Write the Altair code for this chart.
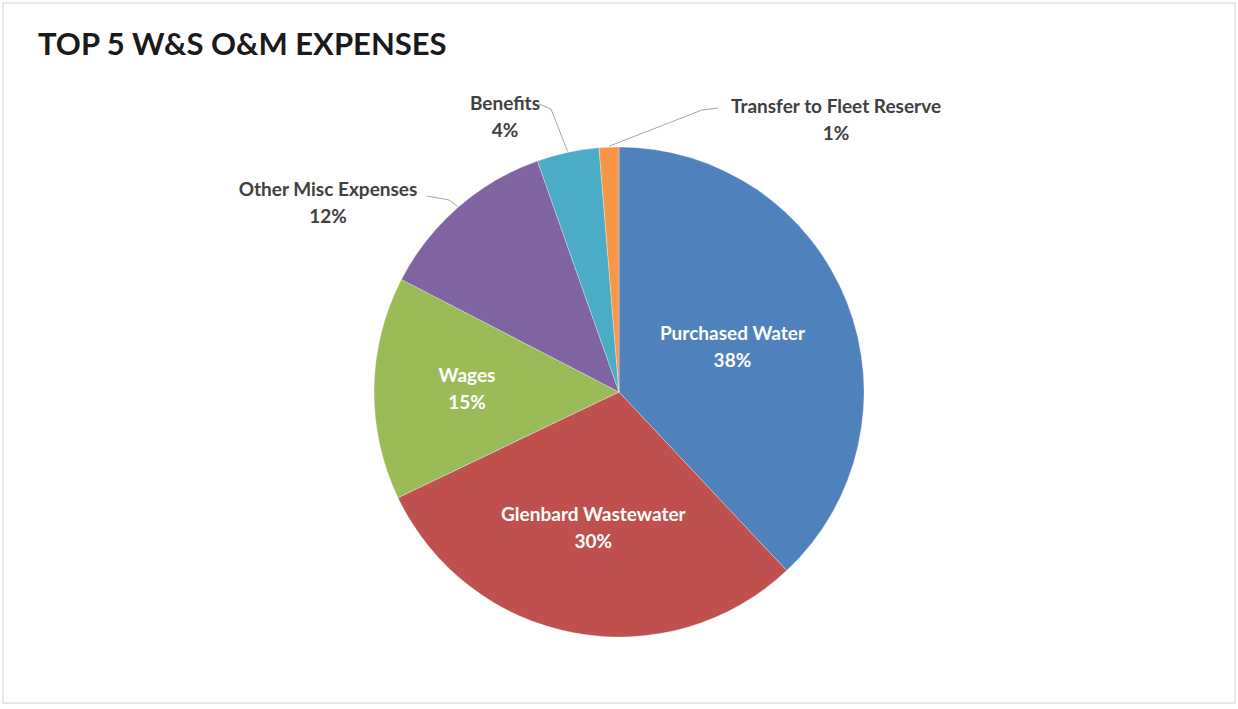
import math
import altair as alt
import pandas as pd

# ---- data ----
categories = ["Purchased Water", "Glenbard Wastewater", "Wages",
              "Other Misc Expenses", "Benefits", "Transfer to Fleet Reserve"]
shares = [38.0, 29.9, 14.7, 12.0, 4.1, 1.3]
pct_labels = ["38%", "30%", "15%", "12%", "4%", "1%"]
colors = ["#4F81BD", "#C0504D", "#9BBB59", "#8064A2", "#4BACC6", "#F79646"]
title_text = "TOP 5 W&S O&M EXPENSES"

# ---- layout ----
W, H = 1238, 709
CX, CY, R = 619, 392, 245
FONT = "Lato"
inside_radius = {"Purchased Water": 122, "Glenbard Wastewater": 139, "Wages": 152}
# outside labels: label centre (offset from pie centre) and leader-line elbow/end
outside_layout = {
    "Other Misc Expenses": {"label": (-291, -189), "elbow": (-170, -192), "end": (-192, -196)},
    "Benefits": {"label": (-114, -275), "elbow": (-68, -283), "end": (-80, -288)},
    "Transfer to Fleet Reserve": {"label": (217, -272), "elbow": (83, -282), "end": (99, -284)},
}
LINE_GAP = 27

total = sum(shares)
cum = 0.0
mid_angles = {}
for c, s in zip(categories, shares):
    mid_angles[c] = (cum + s / 2) / total * 2 * math.pi
    cum += s

slices = pd.DataFrame({"category": categories, "share": shares,
                       "order": list(range(len(categories)))})

rows = []
lines = []
for c, p in zip(categories, pct_labels):
    a = mid_angles[c]
    if c in inside_radius:
        r = inside_radius[c]
        x, y = CX + r * math.sin(a), CY - r * math.cos(a)
        kind = "in"
    else:
        lx, ly = outside_layout[c]["label"]
        x, y = CX + lx, CY + ly
        kind = "out"
        sx, sy = CX + (R + 1) * math.sin(a), CY - (R + 1) * math.cos(a)
        ex, ey = outside_layout[c]["elbow"]
        fx, fy = outside_layout[c]["end"]
        lines += [
            {"cat": c, "i": 0, "x": sx, "y": sy},
            {"cat": c, "i": 1, "x": CX + ex, "y": CY + ey},
            {"cat": c, "i": 2, "x": CX + fx, "y": CY + fy},
        ]
    rows.append({"text": c, "x": x, "y": y - LINE_GAP / 2, "kind": kind})
    rows.append({"text": p, "x": x, "y": y + LINE_GAP / 2, "kind": kind})

labels = pd.DataFrame(rows)
leaders = pd.DataFrame(lines)

xs = alt.Scale(domain=[0, W], range=[0, W])
ys = alt.Scale(domain=[0, H], range=[0, H])

border = alt.Chart(pd.DataFrame({"a": [0]})).mark_rect(
    fill=None, stroke="#E0E0E0", strokeWidth=1.5
).encode(x=alt.value(3), x2=alt.value(W - 3), y=alt.value(3), y2=alt.value(H - 6))

pie = alt.Chart(slices).mark_arc(radius=R, stroke="white", strokeWidth=0.3).encode(
    theta=alt.Theta("share:Q", stack=True),
    order=alt.Order("order:Q"),
    color=alt.Color("category:N", scale=alt.Scale(domain=categories, range=colors), legend=None),
    x=alt.value(CX), y=alt.value(CY),
)

leader = alt.Chart(leaders).mark_line(color="#A6A6A6", strokeWidth=1).encode(
    x=alt.X("x:Q", scale=xs, axis=None),
    y=alt.Y("y:Q", scale=ys, axis=None),
    detail="cat:N",
    order="i:Q",
)

text_in = alt.Chart(labels[labels.kind == "in"]).mark_text(
    font=FONT, fontSize=19, fontWeight="bold", color="white", baseline="middle", align="center"
).encode(x=alt.X("x:Q", scale=xs, axis=None), y=alt.Y("y:Q", scale=ys, axis=None), text="text:N")

text_out = alt.Chart(labels[labels.kind == "out"]).mark_text(
    font=FONT, fontSize=19, fontWeight="bold", color="#404040", baseline="middle", align="center"
).encode(x=alt.X("x:Q", scale=xs, axis=None), y=alt.Y("y:Q", scale=ys, axis=None), text="text:N")

title = alt.Chart(pd.DataFrame({"t": [title_text]})).mark_text(
    font=FONT, fontSize=31, fontWeight="bold", color="#1a1a1a", align="left", baseline="middle"
).encode(x=alt.value(38), y=alt.value(46), text="t:N")

chart = alt.layer(border, pie, leader, text_in, text_out, title).properties(
    width=W, height=H, padding=0, autosize=alt.AutoSizeParams(type="none"),
    background="white",
).configure_view(stroke=None)

chart.save("out.html", embed_options={"renderer": "svg", "actions": False})
